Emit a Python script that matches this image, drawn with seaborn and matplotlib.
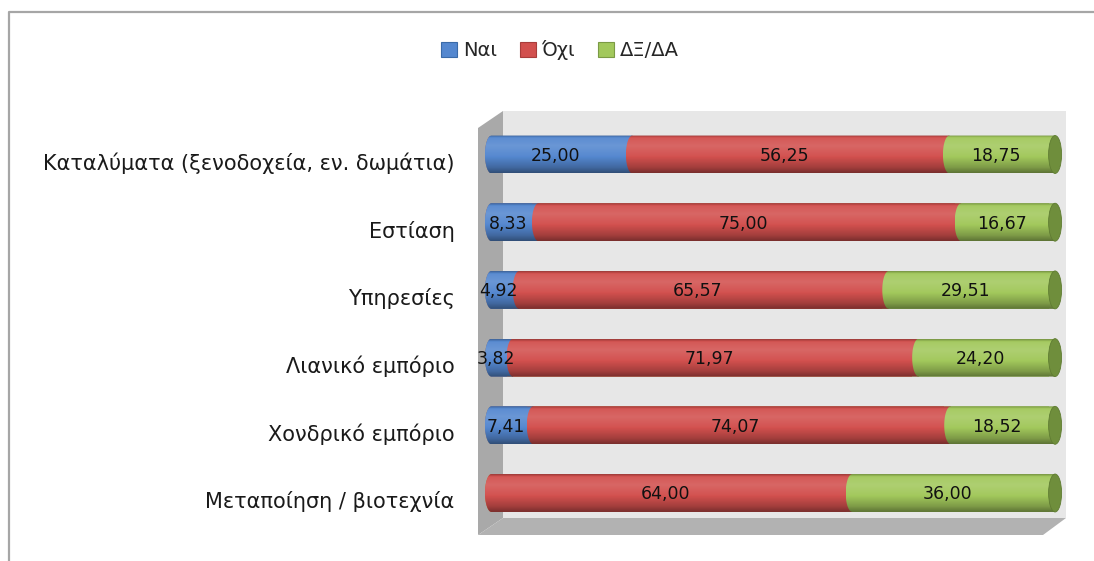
import numpy as np
import pandas as pd
import matplotlib
matplotlib.use("Agg")
import matplotlib.pyplot as plt
import seaborn as sns
from matplotlib.patches import Polygon, Ellipse, Patch
from matplotlib.colors import to_rgb
from matplotlib.lines import Line2D
import matplotlib.transforms as mtransforms

# ---- data -------------------------------------------------------------
categories = [
    "Καταλύματα (ξενοδοχεία, εν. δωμάτια)",
    "Εστίαση",
    "Υπηρεσίες",
    "Λιανικό εμπόριο",
    "Χονδρικό εμπόριο",
    "Μεταποίηση / βιοτεχνία",
]
series_names = ["Ναι", "Όχι", "ΔΞ/ΔΑ"]
yes_vals = [25.00, 8.33, 4.92, 3.82, 7.41, 0.00]
no_vals = [56.25, 75.00, 65.57, 71.97, 74.07, 64.00]
dk_vals = [18.75, 16.67, 29.51, 24.20, 18.52, 36.00]

series_vals = [yes_vals, no_vals, dk_vals]
base_colors = ["#5487cf", "#d2504e", "#a2c85c"]
edge_colors = ["#3a6aa8", "#a83d3b", "#7b9a45"]
cap_color = "#6f8e3c"

# ---- style ------------------------------------------------------------
sns.set_style("white")
plt.rcParams["font.family"] = ["DejaVu Sans"]

W, H = 1094, 561
fig = plt.figure(figsize=(W / 100, H / 100), dpi=100)
fig.patch.set_facecolor("white")


def fx(px):
    return px / W


def fy(py):
    return 1 - py / H


# pixel geometry of the plot box
x0_px, px_per_unit = 485.0, 5.636
ax_right_px = 1066.0
row_top_px, row_step_px = 154.5 - 0.5 * 67.7, 67.7
ax_bottom_px = row_top_px + 6 * row_step_px

ax = fig.add_axes([fx(x0_px), fy(ax_bottom_px),
                   fx(ax_right_px - x0_px), (ax_bottom_px - row_top_px) / H])
ax.set_facecolor("none")

# 3D-like box: back wall, left side wall, floor
fig.add_artist(Polygon([(fx(503), fy(111)), (fx(1066), fy(111)),
                        (fx(1066), fy(518)), (fx(503), fy(518))],
                       closed=True, transform=fig.transFigure,
                       facecolor="#e7e7e7", edgecolor="none", zorder=-3))
fig.add_artist(Polygon([(fx(478), fy(128)), (fx(503), fy(111)),
                        (fx(503), fy(518)), (fx(478), fy(535))],
                       closed=True, transform=fig.transFigure,
                       facecolor="#a9a9a9", edgecolor="none", zorder=-2))
fig.add_artist(Polygon([(fx(478), fy(535)), (fx(503), fy(518)),
                        (fx(1066), fy(518)), (fx(1043), fy(535))],
                       closed=True, transform=fig.transFigure,
                       facecolor="#b2b2b2", edgecolor="none", zorder=-2))

# chart frame (left and top edges)
fig.add_artist(Line2D([fx(8.5), fx(8.5), fx(1094)], [fy(561), fy(12), fy(12)],
                      transform=fig.transFigure, color="#a6a6a6", lw=1.6))

# ---- stacked bars via seaborn -----------------------------------------
n = len(categories)
cum = np.cumsum(np.array(series_vals), axis=0)
starts = cum - np.array(series_vals)

bar_w = 0.56
for k in reversed(range(3)):
    df = pd.DataFrame({"category": categories, "end": cum[k]})
    sns.barplot(data=df, x="end", y="category", orient="h", color=base_colors[k],
                width=bar_w, ax=ax, saturation=1, linewidth=0)

hw = 6.5 / px_per_unit      # horizontal half-width of the end ellipses (data units)
hh = bar_w / 2


def cylinder_outline(s, e, yc):
    th = np.linspace(np.pi / 2, 3 * np.pi / 2, 40)
    arc_x = s + hw + hw * np.cos(th)
    arc_y = yc + hh * np.sin(th)
    verts = [(s + hw, yc - hh), (e + hw, yc - hh), (e + hw, yc + hh), (s + hw, yc + hh)]
    verts += list(zip(arc_x, arc_y))
    return np.array(verts)


# clip every seaborn bar to the cylinder outline of its row
for p in ax.patches:
    yc = p.get_y() + p.get_height() / 2
    row = int(round(yc))
    clip = Polygon(cylinder_outline(0, cum[2][row], row), closed=True,
                   transform=ax.transData)
    p.set_clip_path(clip)


def shade(base, t):
    stops_t = [0.0, 0.07, 0.28, 0.55, 0.85, 1.0]
    stops_f = [-0.25, 0.05, 0.13, 0.02, -0.22, -0.42]
    f = np.interp(t, stops_t, stops_f)
    c = np.array(to_rgb(base))
    out = np.where(f[:, None] >= 0,
                   c + (1 - c) * f[:, None],
                   c * (1 + f[:, None]))
    return np.clip(out, 0, 1)


tgrid = np.linspace(0, 1, 64)
for k in range(3):
    grad = shade(base_colors[k], tgrid)[:, None, :]
    for i in range(n):
        v = series_vals[k][i]
        if v <= 0:
            continue
        s, e = starts[k][i], cum[k][i]
        poly = Polygon(cylinder_outline(s, e, i), closed=True, transform=ax.transData,
                       facecolor="none", edgecolor="none")
        ax.add_patch(poly)
        im = ax.imshow(grad, extent=(s, e + hw, i + hh, i - hh), origin="upper",
                       aspect="auto", interpolation="bilinear", zorder=3 + k)
        im.set_clip_path(poly)

# right end caps of the cylinders
for i in range(n):
    ax.add_patch(Ellipse((cum[2][i] + hw, i), 2 * hw, 2 * hh, facecolor=cap_color,
                         edgecolor="#5f7c32", lw=0.6, zorder=7))

# value labels
for k in range(3):
    for i in range(n):
        v = series_vals[k][i]
        if v <= 0:
            continue
        xm = (starts[k][i] + cum[k][i]) / 2
        ax.text(xm, i + 0.02, f"{v:.2f}".replace(".", ","), ha="center", va="center",
                fontsize=12.5, color="#111111", zorder=10)

# ---- axes cosmetics ----------------------------------------------------
ax.set_xlim(0, (ax_right_px - x0_px) / px_per_unit)
ax.set_ylim(n - 0.5, -0.5)
ax.set_xlabel("")
ax.set_ylabel("")
ax.set_xticks([])
ax.set_yticks(range(n))
ax.set_yticklabels(categories, fontsize=15, color="#1a1a1a")
ax.tick_params(axis="y", length=0, pad=22)
for sp in ax.spines.values():
    sp.set_visible(False)
offset = mtransforms.ScaledTranslation(0, -7 / 100, fig.dpi_scale_trans)
for lbl in ax.get_yticklabels():
    lbl.set_transform(lbl.get_transform() + offset)

# ---- legend -------------------------------------------------------------
handles = [Patch(facecolor=base_colors[k], edgecolor=edge_colors[k], lw=0.8)
           for k in range(3)]
fig.legend(handles, series_names, loc="center", bbox_to_anchor=(fx(560), fy(50)),
           ncol=3, frameon=False, fontsize=14, handlelength=0.8, handleheight=0.8,
           handletextpad=0.3, columnspacing=1.2)

fig.savefig("out.png", dpi=100, facecolor="white")
